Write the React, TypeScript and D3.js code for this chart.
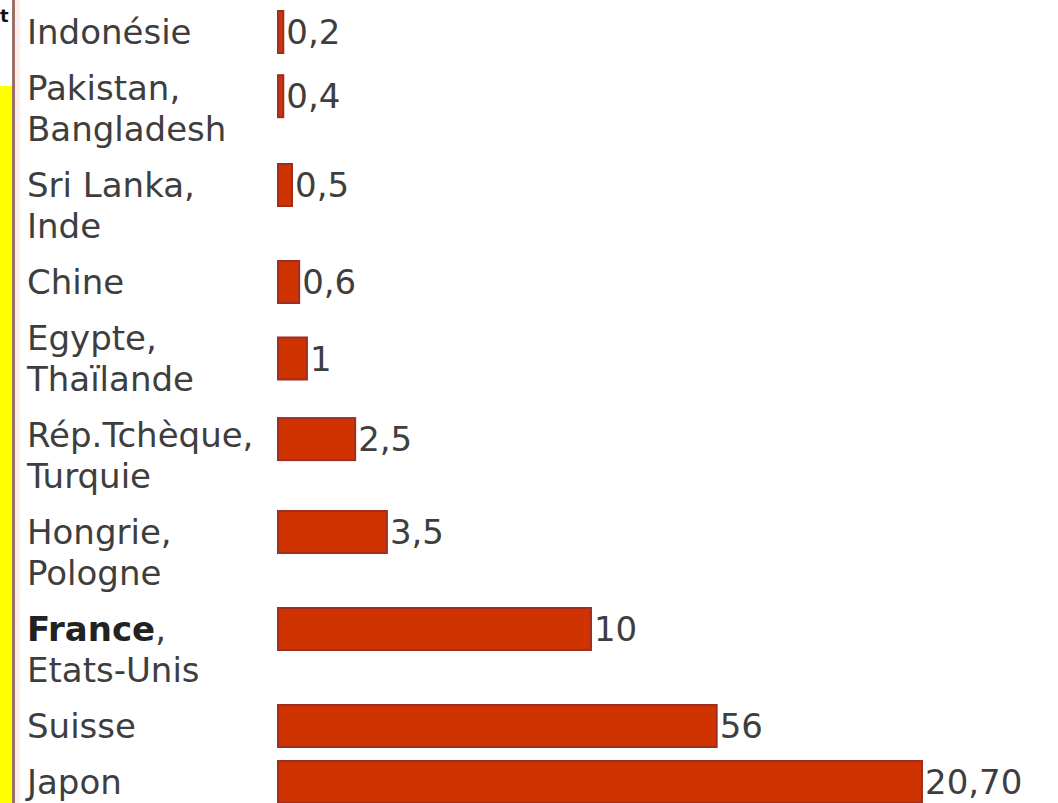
import React from "react";
import * as d3 from "d3";

const categories: string[][] = [
  ["Indonésie"],
  ["Pakistan,", "Bangladesh"],
  ["Sri Lanka,", "Inde"],
  ["Chine"],
  ["Egypte,", "Thaïlande"],
  ["Rép.Tchèque,", "Turquie"],
  ["Hongrie,", "Pologne"],
  ["France,", "Etats-Unis"],
  ["Suisse"],
  ["Japon"],
];
const boldNames: string[] = ["France"];
const valueLabels: string[] = ["0,2", "0,4", "0,5", "0,6", "1", "2,5", "3,5", "10", "56", "20,70"];
// bar lengths (same unit as the 20,70 bar)
const barValues: number[] = [0.17, 0.17, 0.45, 0.68, 0.93, 2.48, 3.5, 10.06, 14.1, 20.7];
// vertical placement of the bar within its row (0 = first line, 1 = last line)
const barAlign: number[] = [0, 0.2, 0, 0, 0.5, 0.1, 0, 0, 0, 0];

const W = 1058;
const H = 803;
const FONT = "'DejaVu Sans', Verdana, sans-serif";
const FS = 34;
const LINE_H = 41;
const ROW_GAP = 56;
const FIRST_Y = 32;
const BAR_X0 = 278;
const BAR_H = 42;
const TEXT_X = 27;

export default function App() {
  const x = d3.scaleLinear().domain([0, d3.max(barValues) as number]).range([0, 644]);

  const rows: { y: number; lines: string[]; i: number }[] = [];
  let cy = FIRST_Y;
  categories.forEach((lines, i) => {
    rows.push({ y: cy, lines, i });
    cy += ROW_GAP + (lines.length - 1) * LINE_H;
  });

  const renderFirstLine = (line: string) => {
    const name = line.replace(/,$/, "");
    if (boldNames.includes(name)) {
      return (
        <>
          <tspan fontWeight="bold" fill="#222">{name}</tspan>
          {line.endsWith(",") ? "," : ""}
        </>
      );
    }
    return line;
  };

  return (
    <svg
      width={W}
      height={H}
      style={{ position: "absolute", left: 0, top: 0, background: "#fff" }}
      fontFamily={FONT}
    >
      <rect x={0} y={0} width={W} height={H} fill="#ffffff" />
      <rect x={0} y={86} width={12} height={H - 86} fill="#ffff00" />
      <rect x={15} y={0} width={5} height={H} fill="#fbeee8" />
      <rect x={12} y={0} width={3} height={H} fill="#9c7068" />
      <text x={0} y={22} fontSize={18} fontWeight="bold" fill="#111">t</text>

      {rows.map(({ y, lines, i }) => {
        const barCy = y + barAlign[i] * (lines.length - 1) * LINE_H;
        const w = x(barValues[i]);
        return (
          <g key={i}>
            {lines.map((ln, k) => (
              <text
                key={k}
                x={TEXT_X}
                y={y + k * LINE_H}
                dominantBaseline="central"
                fontSize={FS}
                fill="#3e3e3e"
              >
                {k === 0 ? renderFirstLine(ln) : ln}
              </text>
            ))}
            <rect
              x={BAR_X0}
              y={barCy - BAR_H / 2}
              width={w}
              height={BAR_H}
              fill="#cf3400"
              stroke="#9e2e22"
              strokeWidth={2}
            />
            <text
              x={BAR_X0 + w + 3}
              y={barCy}
              dominantBaseline="central"
              fontSize={FS}
              fill="#3e3e3e"
            >
              {valueLabels[i]}
            </text>
          </g>
        );
      })}
    </svg>
  );
}
